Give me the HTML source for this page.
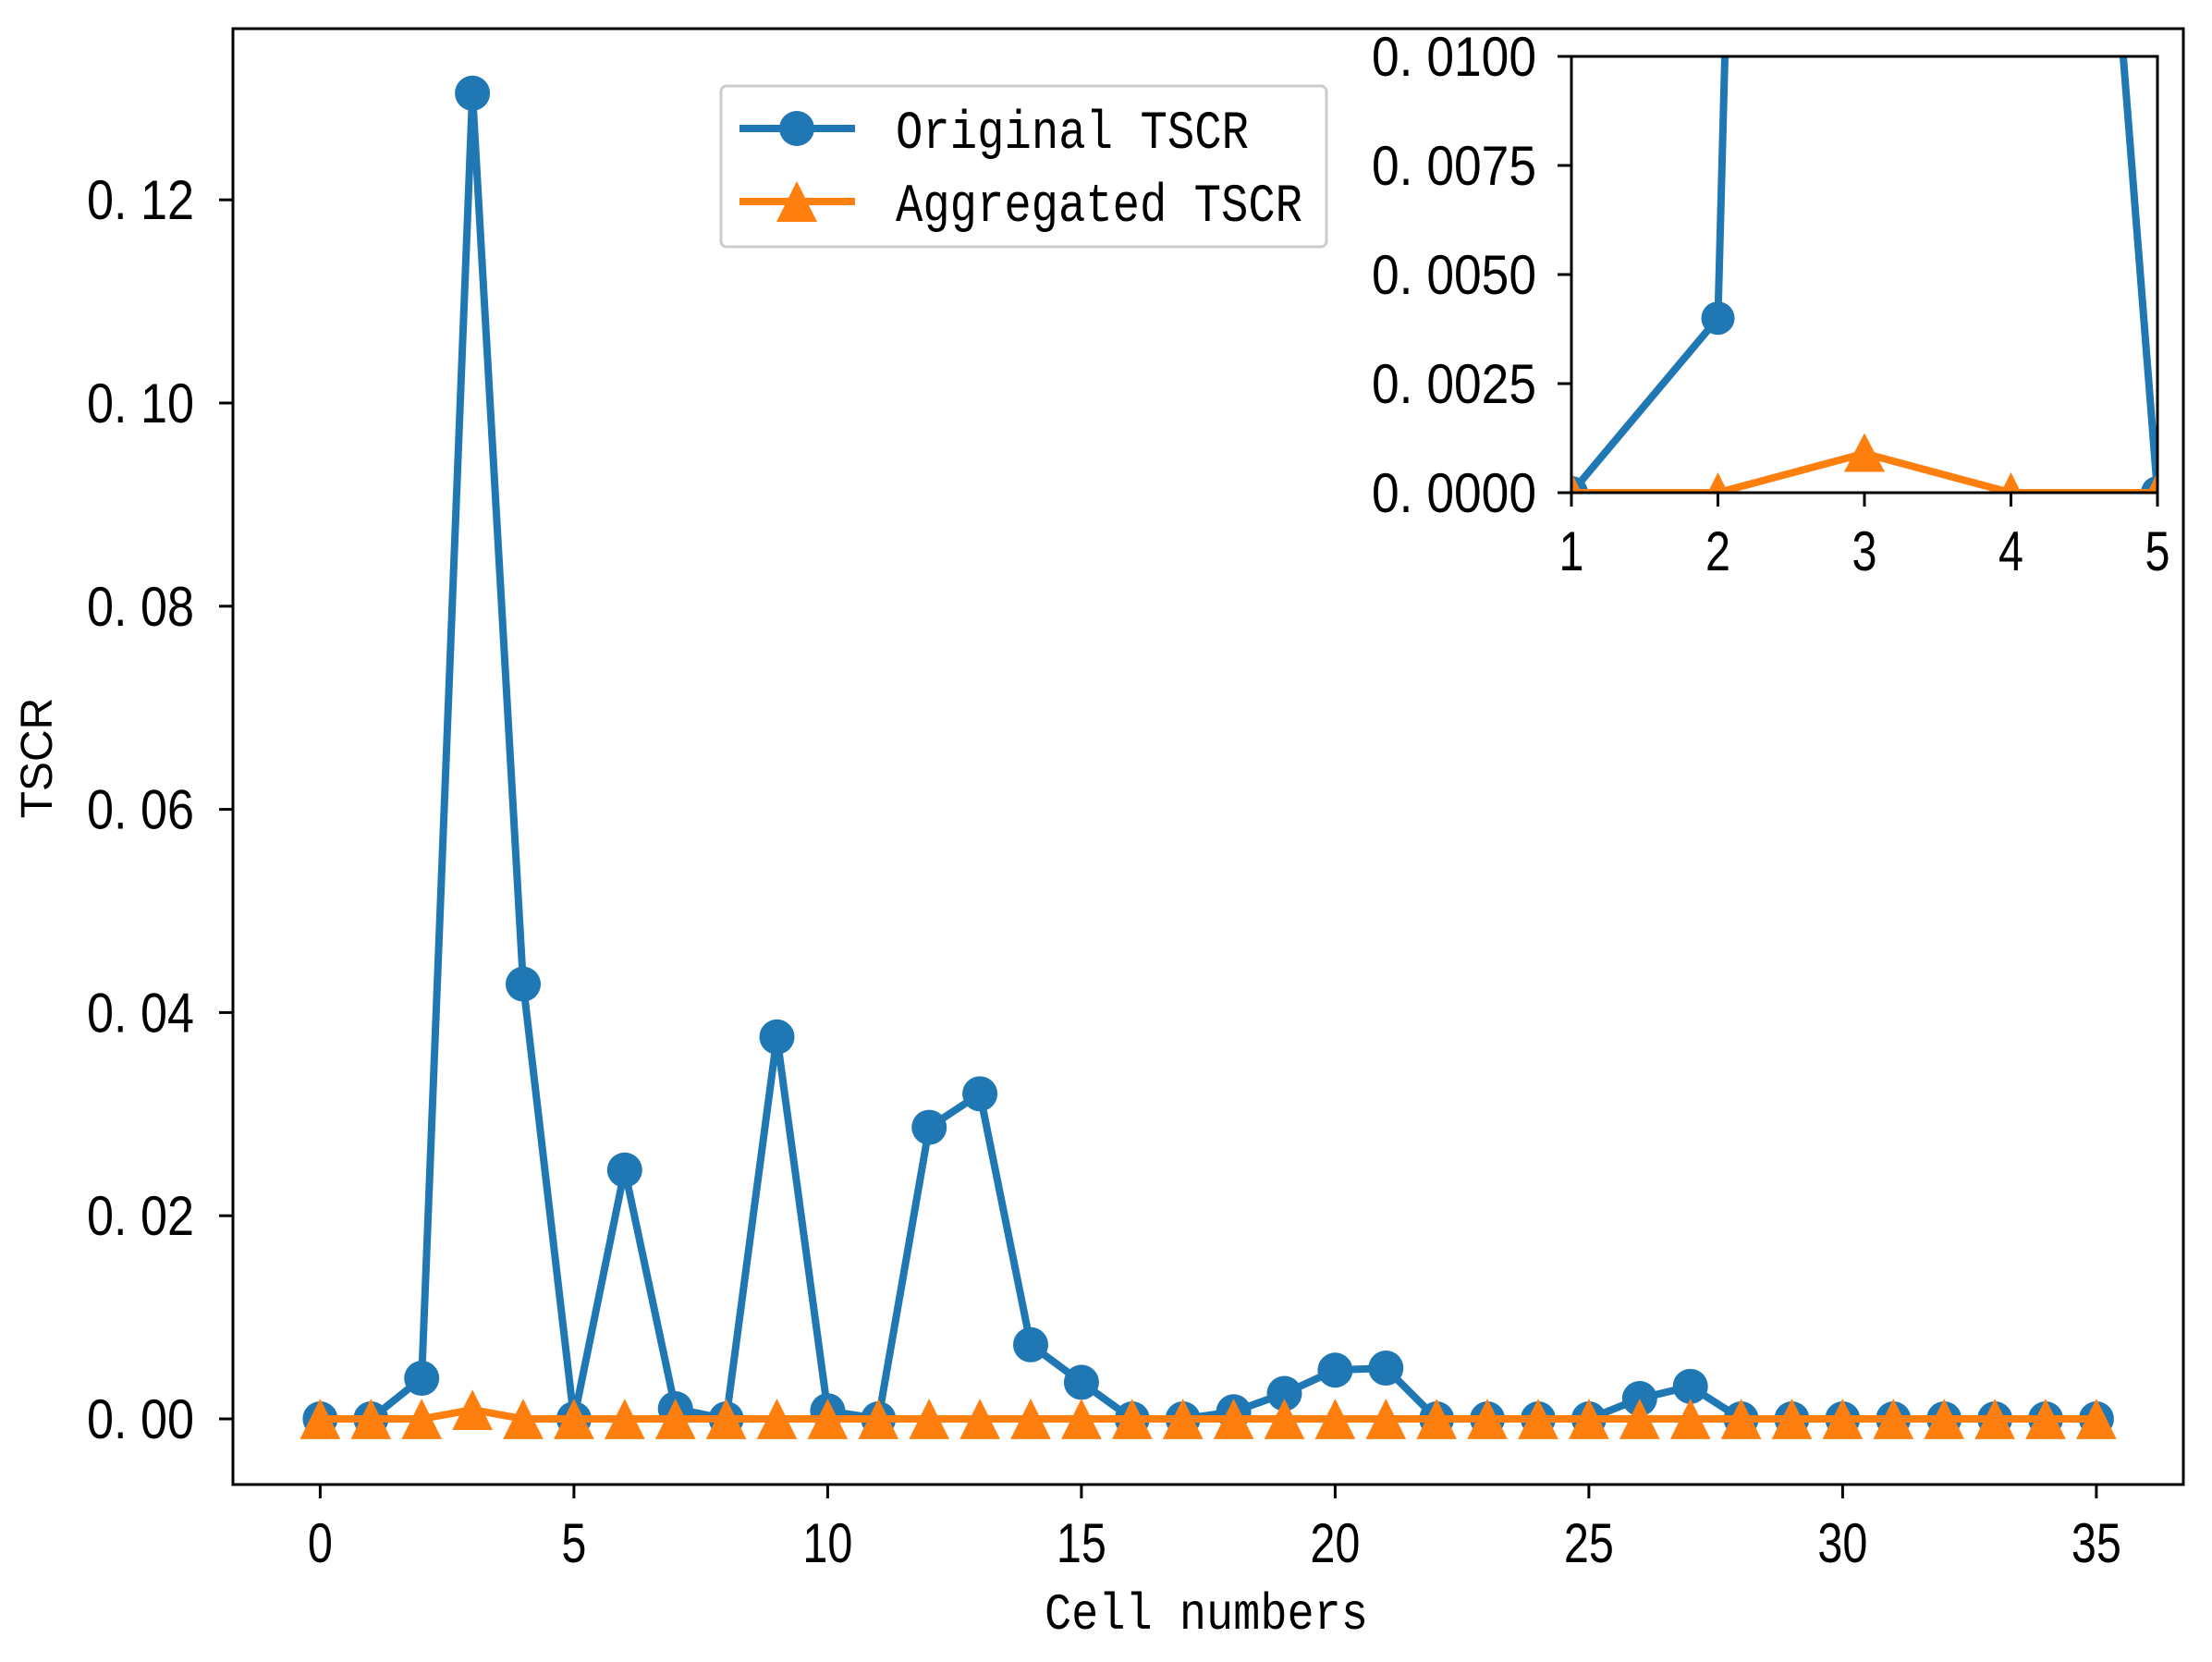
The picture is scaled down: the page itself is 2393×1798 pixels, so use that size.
<!DOCTYPE html>
<html><head><meta charset="utf-8"><style>
html,body{margin:0;padding:0;background:#fff;}
svg text{font-family:"Liberation Sans","Noto Sans CJK SC",sans-serif;fill:#000;}
</style></head><body>
<svg id="s" xmlns="http://www.w3.org/2000/svg" width="2393" height="1793" viewBox="0 0 2393 1793">
<defs>
<clipPath id="mc"><rect x="252" y="31" width="2110" height="1575"/></clipPath>
<clipPath id="ic"><rect x="1700" y="61" width="634" height="472"/></clipPath>
</defs>
<rect x="0" y="0" width="2393" height="1793" fill="#fff"/>
<g id="main"></g>
<rect x="252" y="31" width="2110" height="1575" fill="none" stroke="#000" stroke-width="3"/>
<g id="legend">
<rect x="780" y="93" width="655" height="174" rx="6" fill="#fff" fill-opacity="0.8" stroke="#ccc" stroke-width="3"/>
<line x1="800" y1="139" x2="925" y2="139" stroke="#1f77b4" stroke-width="8"/>
<circle cx="862" cy="139" r="19" fill="#1f77b4"/>
<line x1="800" y1="218" x2="925" y2="218" stroke="#ff7f0e" stroke-width="8"/>
<polygon points="862,196 884,240 840,240" fill="#ff7f0e"/>
<text x="969" y="160" font-size="58" style="font-family:'Liberation Mono',monospace" textLength="382" lengthAdjust="spacingAndGlyphs">Original TSCR</text>
<text x="969" y="239" font-size="58" style="font-family:'Liberation Mono',monospace" textLength="440" lengthAdjust="spacingAndGlyphs">Aggregated TSCR</text>
</g>
<g id="inset"></g>
<text transform="translate(56,820) rotate(-90)" text-anchor="middle" font-size="48">TSCR</text>
<text x="1305" y="1762" text-anchor="middle" font-size="56" style="font-family:'Liberation Mono',monospace" textLength="350" lengthAdjust="spacingAndGlyphs">Cell numbers</text>
</svg>
<script>
var NS="http://www.w3.org/2000/svg";
function el(p,t,a,txt){var e=document.createElementNS(NS,t);for(var k in a)e.setAttribute(k,a[k]);if(txt!==undefined)e.textContent=txt;p.appendChild(e);return e;}
var blue=[0,0,0.004,0.1305,0.0428,0,0.0245,0.001,0,0.0376,0.0008,0,0.0287,0.032,0.0073,0.0036,0,0,0.0007,0.0025,0.0048,0.005,0,0,0,0,0.002,0.0032,0,0,0,0,0,0,0,0];
var orng=[];for(var i=0;i<36;i++)orng.push(i==3?0.0009:0);
var main=document.getElementById('main');
function mx(v){return 346.4+v*54.9;} function my(v){return 1535-v*10990;}
for(var k=0;k<=6;k++){var v=k*0.02,y=my(v);el(main,'line',{x1:237,y1:y,x2:252,y2:y,stroke:'#000','stroke-width':3});
el(main,'text',{x:210,y:y+21,'text-anchor':'end','font-size':60,textLength:116,lengthAdjust:'spacingAndGlyphs'},'0. '+(k*2<10?'0':'')+(k*2));}
for(var k=0;k<=7;k++){var x=mx(k*5);el(main,'line',{x1:x,y1:1606,x2:x,y2:1621,stroke:'#000','stroke-width':3});
var s=''+k*5;el(main,'text',{x:x,y:1690,'text-anchor':'middle','font-size':60,textLength:s.length*27,lengthAdjust:'spacingAndGlyphs'},s);}
var g=el(main,'g',{'clip-path':'url(#mc)'});
function series(g,fx,fy,arr,col,mk,r){var p='';arr.forEach(function(v,i){p+=(i?'L':'M')+fx(i)+','+fy(v);});
el(g,'path',{d:p,fill:'none',stroke:col,'stroke-width':8,'stroke-linejoin':'round'});
arr.forEach(function(v,i){var x=fx(i),y=fy(v);
if(mk=='c')el(g,'circle',{cx:x,cy:y,r:r,fill:col});else el(g,'polygon',{points:x+','+(y-r*1.15)+' '+(x+r*1.15)+','+(y+r*1.15)+' '+(x-r*1.15)+','+(y+r*1.15),fill:col});});}
series(g,mx,my,blue,'#1f77b4','c',19);
series(g,mx,my,orng,'#ff7f0e','t',19);
var ins=document.getElementById('inset');
el(ins,'rect',{x:1700,y:61,width:634,height:472,fill:'#fff'});
function ix(v){return 1700+(v-1)*158.5;} function iy(v){return 533-v*47200;}
var gi=el(ins,'g',{'clip-path':'url(#ic)'});
series(gi,ix,iy,blue,'#1f77b4','c',18);
var p='';orng.forEach(function(v,i){p+=(i?'L':'M')+ix(i)+','+iy(v);});
el(gi,'path',{d:p,fill:'none',stroke:'#ff7f0e','stroke-width':8});
[1,2,4,5].forEach(function(i){var x=ix(i),y=533;el(gi,'polygon',{points:x+','+(y-22)+' '+(x+11)+','+y+' '+(x-11)+','+y,fill:'#ff7f0e'});});
var x3=ix(3),y3=iy(0.0009);el(gi,'polygon',{points:x3+','+(y3-22)+' '+(x3+22)+','+(y3+20)+' '+(x3-22)+','+(y3+20),fill:'#ff7f0e'});
el(ins,'rect',{x:1700,y:61,width:634,height:472,fill:'none',stroke:'#000','stroke-width':3});
var lbl=['0. 0000','0. 0025','0. 0050','0. 0075','0. 0100'];
for(var k=0;k<5;k++){var y=iy(k*0.0025);el(ins,'line',{x1:1685,y1:y,x2:1700,y2:y,stroke:'#000','stroke-width':3});
el(ins,'text',{x:1662,y:y+21,'text-anchor':'end','font-size':60,textLength:178,lengthAdjust:'spacingAndGlyphs'},lbl[k]);}
for(var k=1;k<=5;k++){var x=ix(k);el(ins,'line',{x1:x,y1:533,x2:x,y2:548,stroke:'#000','stroke-width':3});
el(ins,'text',{x:x,y:617,'text-anchor':'middle','font-size':60,textLength:27,lengthAdjust:'spacingAndGlyphs'},''+k);}
</script>
</body></html>
